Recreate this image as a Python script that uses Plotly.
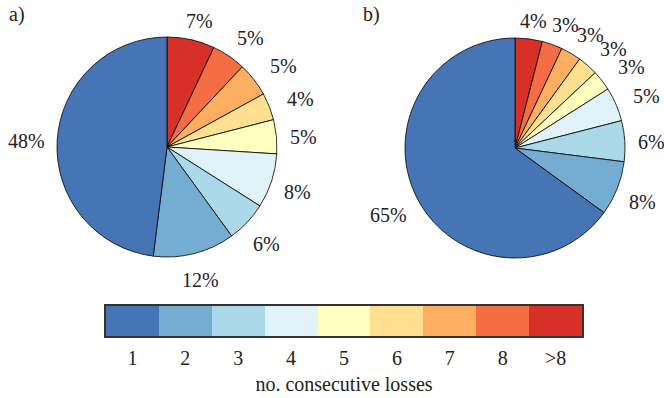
import numpy as np
import plotly.graph_objects as go

# Number of consecutive losses (classes) and their shares in each panel
categories = ["1", "2", "3", "4", "5", "6", "7", "8", ">8"]
share_a = [48, 12, 6, 8, 5, 4, 5, 5, 7]
share_b = [65, 8, 6, 5, 3, 3, 3, 3, 4]
colors = ["#4575b4", "#74add1", "#abd9e9", "#e0f3f8", "#ffffbf",
          "#fee090", "#fdae61", "#f46d43", "#d73027"]

W, H = 664, 398
FONT = "Liberation Serif"
FS = 20
TXT = "#222222"
GAP = 12
DROP = 3
SPREAD = 8

dom_a = dict(x=[57 / W, 277 / W], y=[1 - 257 / H, 1 - 37 / H])
dom_b = dict(x=[405 / W, 625 / W], y=[1 - 258 / H, 1 - 38 / H])


def pct_labels(values, dom):
    """Percent labels placed just outside each slice, along its mid angle
    (slices run counter-clockwise from 12 o'clock)."""
    cx = (dom["x"][0] + dom["x"][1]) / 2 * W
    cy = (1 - (dom["y"][0] + dom["y"][1]) / 2) * H
    R = (dom["x"][1] - dom["x"][0]) * W / 2
    total = float(sum(values))
    start = 90.0
    out = []
    for v in values:
        sweep = v / total * 360.0
        mid_deg = (start + sweep / 2) % 360
        start += sweep
        mid = np.radians(mid_deg)
        txt = f"{v}%"
        hw = (0.5 * (len(txt) - 1) + 0.833) * FS / 2
        hh = 0.38 * FS
        c, s = np.cos(mid), np.sin(mid)
        d = R + GAP + hw * abs(c) + hh * abs(s)
        px, py = cx + d * c, cy - d * s + DROP
        # thin slices crowd the upper-right: fan those labels out sideways
        if 0 < mid_deg < 90:
            px += SPREAD * np.sin(2 * mid)
        out.append(dict(x=px / W, y=1 - py / H, xref="paper", yref="paper",
                        text=txt, showarrow=False, xanchor="center",
                        yanchor="middle", font=dict(family=FONT, size=FS, color=TXT)))
    return out


def pie(values, dom):
    # listed from ">8" down to "1", clockwise from 12 o'clock, so class 1
    # ends up on the left of the vertical and ">8" just right of it
    return go.Pie(values=values[::-1], labels=categories[::-1], sort=False,
                  direction="clockwise", rotation=0,
                  marker=dict(colors=colors[::-1], line=dict(color="black", width=0.8)),
                  textinfo="none", domain=dom, showlegend=False)


fig = go.Figure()
fig.add_trace(pie(share_a, dom_a))
fig.add_trace(pie(share_b, dom_b))

# Discrete colour key
fig.add_trace(go.Heatmap(
    z=[list(range(len(categories)))], x=categories, y=[0],
    colorscale=[[i / (len(colors) - 1), c] for i, c in enumerate(colors)],
    zmin=0, zmax=len(colors) - 1, showscale=False, xaxis="x", yaxis="y",
    hoverinfo="x"))

annots = pct_labels(share_a, dom_a) + pct_labels(share_b, dom_b)
annots += [
    dict(x=7 / W, y=1 - 14 / H, xref="paper", yref="paper", text="a)",
         showarrow=False, xanchor="left", yanchor="middle",
         font=dict(family=FONT, size=FS, color=TXT)),
    dict(x=361 / W, y=1 - 14 / H, xref="paper", yref="paper", text="b)",
         showarrow=False, xanchor="left", yanchor="middle",
         font=dict(family=FONT, size=FS, color=TXT)),
]

fig.update_layout(
    width=W, height=H,
    margin=dict(l=0, r=0, t=0, b=0),
    paper_bgcolor="white", plot_bgcolor="white",
    font=dict(family=FONT, size=FS, color=TXT),
    annotations=annots,
    xaxis=dict(domain=[106 / W, 582 / W], anchor="y", type="category",
               showline=True, mirror=True, linecolor="#333333", linewidth=1.5,
               ticks="", showgrid=False, zeroline=False,
               tickfont=dict(family=FONT, size=FS, color=TXT),
               ticklabelstandoff=3,
               title=dict(text="no. consecutive losses", standoff=9,
                          font=dict(family=FONT, size=FS, color=TXT))),
    yaxis=dict(domain=[1 - 336 / H, 1 - 305.5 / H], anchor="x",
               showline=True, mirror=True, linecolor="#333333", linewidth=1.5,
               showticklabels=False, ticks="", showgrid=False, zeroline=False),
)

fig.write_html("out.html")
